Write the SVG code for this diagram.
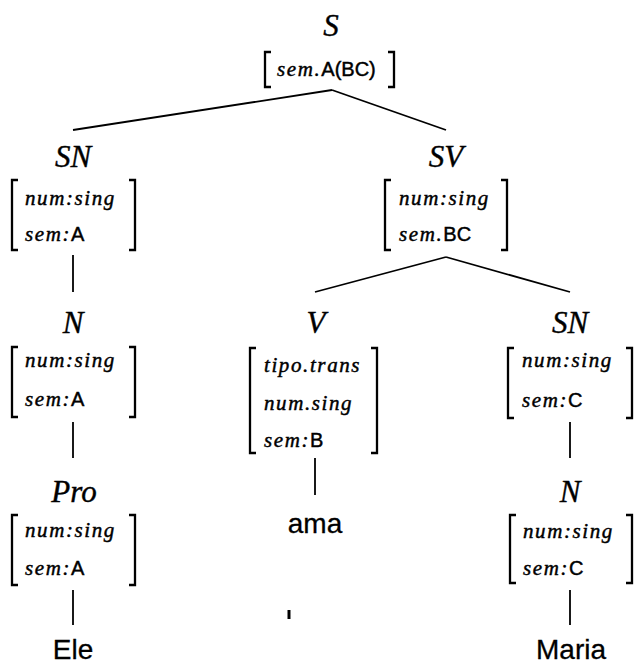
<svg xmlns="http://www.w3.org/2000/svg" width="634" height="667" viewBox="0 0 634 667">
  <style>
    .bg { fill: #ffffff; }
    .lbl { font-family: "Liberation Serif", "DejaVu Serif", serif; font-style: italic; font-size: 31px; fill: #000; stroke: #000; stroke-width: 0.4; text-anchor: middle; }
    .ft { font-family: "Liberation Serif", "DejaVu Serif", serif; font-size: 21px; fill: #000; stroke: #000; stroke-width: 0.45; }
    .it { font-style: italic; letter-spacing: 1.6px; }
    .sf { font-family: "Liberation Sans", "DejaVu Sans", sans-serif; font-style: normal; font-size: 20px; letter-spacing: 0; }
    .word { font-family: "Liberation Sans", "DejaVu Sans", sans-serif; font-size: 28px; fill: #000; stroke: #000; stroke-width: 0.3; text-anchor: middle; }
    .br { fill: none; stroke: #000; stroke-width: 2.3; }
    .edge { fill: none; stroke: #000; stroke-width: 1.8; }
  </style>
  <rect class="bg" x="0" y="0" width="634" height="667"/>

  <!-- tree branches -->
  <g id="connectors">
    <path class="edge" d="M332 90 L73 130"/>
    <path class="edge" d="M332 90 L446 130"/>
    <path class="edge" d="M73 255 V292"/>
    <path class="edge" d="M446 257 L315 292"/>
    <path class="edge" d="M446 257 L570 292"/>
    <path class="edge" d="M73 422 V458"/>
    <path class="edge" d="M73 590 V625"/>
    <path class="edge" d="M315 458 V495"/>
    <path class="edge" d="M570 422 V458"/>
    <path class="edge" d="M570 590 V625"/>
  </g>

  <!-- root -->
  <g id="node-S">
    <text class="lbl" x="331" y="36">S</text>
    <path class="br" d="M271 52 H265 V87 H271 M388 52 H394 V87 H388"/>
    <text class="ft" x="277" y="76"><tspan class="it">sem.</tspan><tspan class="sf" font-size="21">A(BC)</tspan></text>
  </g>

  <!-- subject noun phrase -->
  <g id="node-SN">
    <text class="lbl" x="73" y="167">SN</text>
    <path class="br" d="M18 180 H12 V250 H18 M129 180 H135 V250 H129"/>
    <text class="ft" x="25" y="205"><tspan class="it">num:sing</tspan></text>
    <text class="ft" x="25" y="241"><tspan class="it">sem:</tspan><tspan class="sf">A</tspan></text>
  </g>

  <!-- verb phrase -->
  <g id="node-SV">
    <text class="lbl" x="446" y="167">SV</text>
    <path class="br" d="M391 180 H385 V250 H391 M501 180 H507 V250 H501"/>
    <text class="ft" x="399" y="205"><tspan class="it">num:sing</tspan></text>
    <text class="ft" x="399" y="241"><tspan class="it">sem.</tspan><tspan class="sf">BC</tspan></text>
  </g>

  <!-- noun under subject -->
  <g id="node-N1">
    <text class="lbl" x="73" y="333">N</text>
    <path class="br" d="M18 347 H12 V417 H18 M129 347 H135 V417 H129"/>
    <text class="ft" x="25" y="367"><tspan class="it">num:sing</tspan></text>
    <text class="ft" x="25" y="406"><tspan class="it">sem:</tspan><tspan class="sf">A</tspan></text>
  </g>

  <!-- verb -->
  <g id="node-V">
    <text class="lbl" x="316" y="333">V</text>
    <path class="br" d="M256 348 H250 V453 H256 M371 348 H377 V453 H371"/>
    <text class="ft" x="264" y="372"><tspan class="it">tipo.trans</tspan></text>
    <text class="ft" x="264" y="410"><tspan class="it">num.sing</tspan></text>
    <text class="ft" x="264" y="447"><tspan class="it">sem:</tspan><tspan class="sf">B</tspan></text>
  </g>

  <!-- object noun phrase -->
  <g id="node-SN2">
    <text class="lbl" x="570" y="333">SN</text>
    <path class="br" d="M514 348 H508 V418 H514 M626 348 H632 V418 H626"/>
    <text class="ft" x="522" y="367"><tspan class="it">num:sing</tspan></text>
    <text class="ft" x="522" y="407"><tspan class="it">sem:</tspan><tspan class="sf">C</tspan></text>
  </g>

  <!-- pronoun -->
  <g id="node-Pro">
    <text class="lbl" x="74" y="502">Pro</text>
    <path class="br" d="M18 515 H12 V585 H18 M129 515 H135 V585 H129"/>
    <text class="ft" x="25" y="537"><tspan class="it">num:sing</tspan></text>
    <text class="ft" x="25" y="575"><tspan class="it">sem:</tspan><tspan class="sf">A</tspan></text>
  </g>

  <!-- noun under object -->
  <g id="node-N2">
    <text class="lbl" x="570" y="502">N</text>
    <path class="br" d="M516 515 H510 V583 H516 M626 515 H632 V583 H626"/>
    <text class="ft" x="523" y="538"><tspan class="it">num:sing</tspan></text>
    <text class="ft" x="523" y="575"><tspan class="it">sem:</tspan><tspan class="sf">C</tspan></text>
  </g>

  <!-- leaves -->
  <g id="leaf-Ele"><text class="word" x="73" y="659">Ele</text></g>
  <g id="leaf-ama"><text class="word" x="315" y="533">ama</text></g>
  <g id="leaf-Maria"><text class="word" x="571" y="659">Maria</text></g>

  <!-- small ink speck below the verb -->
  <path d="M289 610 V619" stroke="#000" stroke-width="3" fill="none"/>
</svg>
